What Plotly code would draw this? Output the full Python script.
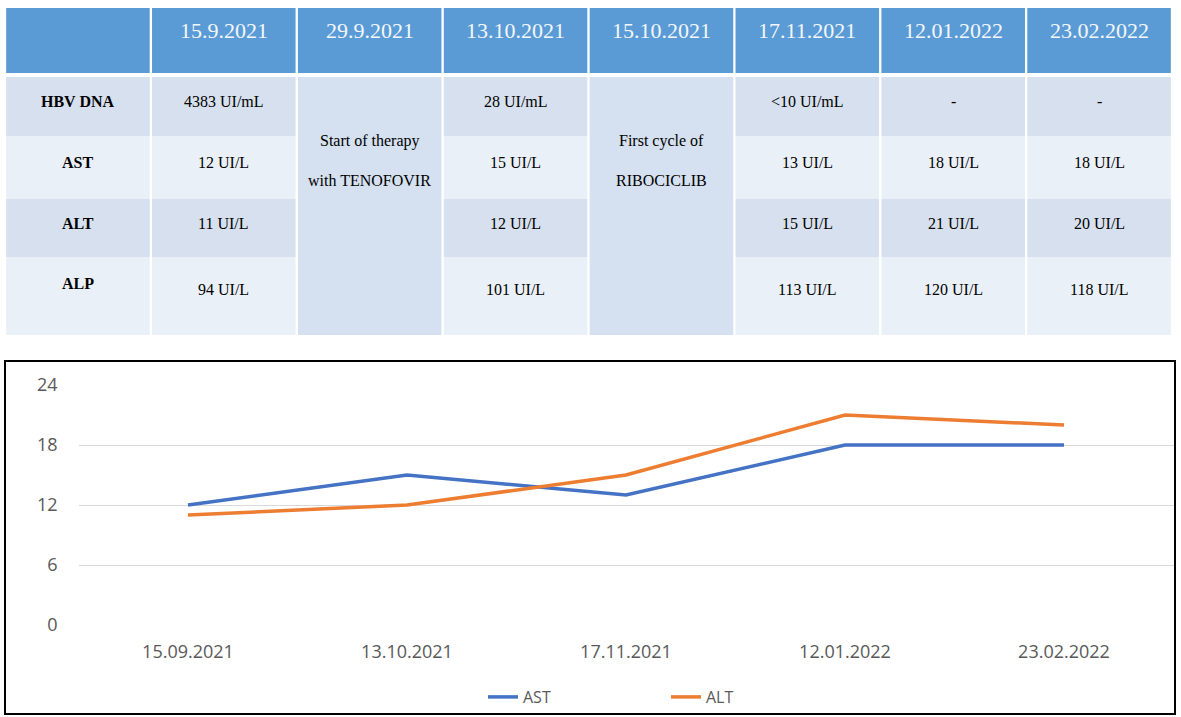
import plotly.graph_objects as go

# table data
table_dates = ["15.9.2021", "29.9.2021", "13.10.2021", "15.10.2021",
               "17.11.2021", "12.01.2022", "23.02.2022"]
row_labels = ["HBV DNA", "AST", "ALT", "ALP"]
hbv_dna = ["4383 UI/mL", None, "28 UI/mL", None, "<10 UI/mL", "-", "-"]
events = {1: ["Start of therapy", "with TENOFOVIR"],
          3: ["First cycle of", "RIBOCICLIB"]}

# lab values at the measurement dates
chart_dates = ["15.09.2021", "13.10.2021", "17.11.2021", "12.01.2022", "23.02.2022"]
ast = [12, 15, 13, 18, 18]
alt = [11, 12, 15, 21, 20]
alp = [94, 101, 113, 120, 118]

W, H = 1181, 717
HEADER_BLUE = "#5b9bd5"
ROW_DARK = "#d6e0ee"
ROW_LIGHT = "#eaf0f8"
MERGED = "#d5e0f0"
SERIF = "Liberation Serif"
SANS = "Open Sans"

# table geometry (in y2 units, top-down)
ROW_EDGES = [8, 73, 77, 136, 199, 257, 335]

fig = go.Figure()

# line chart
fig.add_trace(go.Scatter(x=chart_dates, y=ast, name="AST", mode="lines",
                         line=dict(color="#4472c4", width=3.5)))
fig.add_trace(go.Scatter(x=chart_dates, y=alt, name="ALT", mode="lines",
                         line=dict(color="#ed7d31", width=3.5)))

# build table columns: measurement columns get values, event columns merged
body_cols = []
k = 0
for c in range(len(table_dates)):
    if c in events:
        body_cols.append(None)
    else:
        body_cols.append([hbv_dna[c], f"{ast[k]} UI/L", f"{alt[k]} UI/L", f"{alp[k]} UI/L"])
        k += 1

shapes = []
annotations = []
gap = 0.008


def cell(col, top, bottom, color):
    shapes.append(dict(type="rect", xref="x2", yref="y2",
                       x0=col + gap, x1=col + 1 - gap, y0=top, y1=bottom,
                       fillcolor=color, line=dict(width=0), layer="below"))


def txt(col, y, s, size=16, color="black", bold=False):
    if bold:
        s = "<b>" + s + "</b>"
    annotations.append(dict(xref="x2", yref="y2", x=col + 0.5, y=y, text=s,
                            showarrow=False, xanchor="center", yanchor="middle",
                            font=dict(family=SERIF, size=size, color=color)))


# header row
h_top, h_bot = ROW_EDGES[0], ROW_EDGES[1]
cell(0, h_top, h_bot, HEADER_BLUE)
for c, d in enumerate(table_dates):
    cell(c + 1, h_top, h_bot, HEADER_BLUE)
    txt(c + 1, h_top + 0.35 * (h_bot - h_top), d, size=22, color="#f2f7fc")

# body rows
body_edges = ROW_EDGES[2:]
for r, lab in enumerate(row_labels):
    top, bot = body_edges[r], body_edges[r + 1]
    color = ROW_DARK if r % 2 == 0 else ROW_LIGHT
    ypos = top + 0.42 * (bot - top)
    cell(0, top, bot, color)
    txt(0, ypos - (6 if r == 3 else 0), lab, bold=True)
    for c in range(len(table_dates)):
        col = body_cols[c]
        if col is None:
            continue
        cell(c + 1, top, bot, color)
        txt(c + 1, ypos, col[r].replace("<", "&lt;"))

# merged event columns
for c, lines in events.items():
    cell(c + 1, body_edges[0], body_edges[-1], MERGED)
    for i, line in enumerate(lines):
        txt(c + 1, body_edges[1] + 5 + 39 * i, line)

# chart frame
shapes.append(dict(type="rect", xref="paper", yref="paper",
                   x0=5 / W, x1=1175 / W, y0=(H - 714) / H, y1=(H - 361) / H,
                   line=dict(color="black", width=2), fillcolor="rgba(0,0,0,0)"))

fig.update_layout(
    width=W, height=H,
    margin=dict(l=0, r=0, t=0, b=0, autoexpand=False),
    paper_bgcolor="white", plot_bgcolor="white",
    showlegend=True,
    legend=dict(orientation="h", x=483 / W, xanchor="left",
                y=(H - 697) / H, yanchor="middle", bgcolor="rgba(0,0,0,0)",
                entrywidth=138, font=dict(family=SANS, size=16, color="#595959")),
    xaxis=dict(domain=[78.5 / W, 1173.5 / W], range=[-0.5, 4.5],
               showgrid=False, zeroline=False, showline=False, ticks="",
               ticklabelstandoff=14,
               tickfont=dict(family=SANS, size=18, color="#595959")),
    yaxis=dict(domain=[(H - 625) / H, (H - 385) / H], range=[0, 24],
               tickvals=[0, 6, 12, 18, 24], showgrid=True,
               gridcolor="#d9d9d9", gridwidth=1, zeroline=False, showline=False,
               ticklabelstandoff=20,
               tickfont=dict(family=SANS, size=18, color="#595959")),
    xaxis2=dict(domain=[5 / W, 1172 / W], range=[0, 8], visible=False,
                anchor="y2", fixedrange=True),
    yaxis2=dict(domain=[(H - 335) / H, (H - 8) / H],
                range=[ROW_EDGES[-1], ROW_EDGES[0]], visible=False,
                anchor="x2", fixedrange=True),
    shapes=shapes,
    annotations=annotations,
)

fig.write_html("out.html", config={"displayModeBar": False},
               post_script="document.body.style.margin='0';")
